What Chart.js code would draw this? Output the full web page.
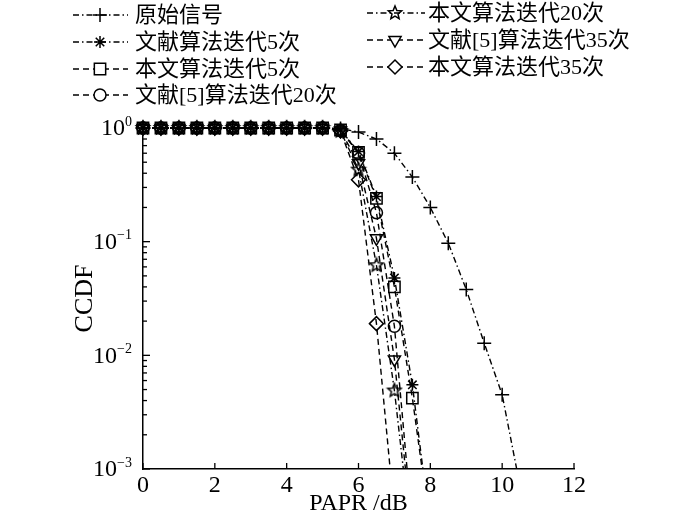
<!DOCTYPE html>
<html>
<head>
<meta charset="utf-8">
<script src="https://cdn.jsdelivr.net/npm/chart.js@4.4.1/dist/chart.umd.min.js"></script>
<style>
  html, body { margin: 0; padding: 0; background: #fff; }
</style>
</head>
<body>
<canvas id="myChart" width="700" height="519"></canvas>
<script>
// PAPR (dB) sample points
const papr = [0, 0.5, 1, 1.5, 2, 2.5, 3, 3.5, 4, 4.5, 5, 5.5, 6, 6.5, 7, 7.5, 8, 8.5, 9, 9.5, 10, 10.5];

const seriesNames = [
    "原始信号",
    "文献算法迭代5次",
    "本文算法迭代5次",
    "文献[5]算法迭代20次",
    "本文算法迭代20次",
    "文献[5]算法迭代35次",
    "本文算法迭代35次",
];

// CCDF values (points past the bottom are where the lines leave the plot)
const ccdfOriginal = [1, 1, 1, 1, 1, 1, 1, 1, 1, 1, 1, 0.99, 0.92, 0.80, 0.60, 0.37, 0.20, 0.097, 0.038, 0.0128, 0.0045, 0.0007];
const ccdfRef5 = [1, 1, 1, 1, 1, 1, 1, 1, 1, 1, 1, 0.96, 0.62, 0.25, 0.048, 0.0055, 0.0003];
const ccdfOurs5 = [1, 1, 1, 1, 1, 1, 1, 1, 1, 1, 1, 0.96, 0.61, 0.24, 0.040, 0.0042, 0.0003];
const ccdfRef20 = [1, 1, 1, 1, 1, 1, 1, 1, 1, 1, 1, 0.95, 0.60, 0.18, 0.018, 0.0003];
const ccdfOurs20 = [1, 1, 1, 1, 1, 1, 1, 1, 1, 1, 1, 0.94, 0.43, 0.062, 0.0049, 0.0002];
const ccdfRef35 = [1, 1, 1, 1, 1, 1, 1, 1, 1, 1, 1, 0.95, 0.49, 0.107, 0.0092, 0.00025];
const ccdfOurs35 = [1, 1, 1, 1, 1, 1, 1, 1, 1, 1, 1, 0.94, 0.35, 0.019, 0.0004];

const xTicks = [0, 2, 4, 6, 8, 10, 12];
const yDecades = [0, -1, -2, -3];

const serif = '"Liberation Serif", "Noto Sans CJK SC", serif';
const dashDot = [6, 3, 1.5, 3];
const dashed = [6, 4];

// five-pointed star marker
function makeStar(r) {
    var c = document.createElement("canvas");
    var s = Math.ceil(r * 2 + 4);
    c.width = s;
    c.height = s;
    var g = c.getContext("2d");
    g.strokeStyle = "#000";
    g.lineWidth = 1.5;
    g.beginPath();
    for (var i = 0; i < 10; i++) {
        var rr = i % 2 === 0 ? r : r * 0.45;
        var a = -Math.PI / 2 + i * Math.PI / 5;
        var px = s / 2 + rr * Math.cos(a);
        var py = s / 2 + rr * Math.sin(a);
        if (i === 0) g.moveTo(px, py); else g.lineTo(px, py);
    }
    g.closePath();
    g.stroke();
    return c;
}
const starImg = makeStar(7);

function toPoints(values) {
    return values.map(function (v, i) { return { x: papr[i], y: v }; });
}

function makeDataset(i, values, style, radius, dash, rotation) {
    return {
        label: seriesNames[i],
        data: toPoints(values),
        borderColor: "#000",
        backgroundColor: "#fff",
        borderWidth: 1.4,
        borderDash: dash,
        pointStyle: style,
        pointRadius: radius,
        pointRotation: rotation || 0,
        pointBorderColor: "#000",
        pointBackgroundColor: "rgba(0,0,0,0)",
        pointBorderWidth: 1.5,
        tension: 0,
        clip: { left: 12, right: 12, top: 12, bottom: 0 },
    };
}

const datasets = [
    makeDataset(0, ccdfOriginal, "cross", 7, dashDot),
    makeDataset(1, ccdfRef5, "star", 6, dashDot),
    makeDataset(2, ccdfOurs5, "rect", 8, dashed),
    makeDataset(3, ccdfRef20, "circle", 6, dashed),
    makeDataset(4, ccdfOurs20, starImg, 7, dashDot),
    makeDataset(5, ccdfRef35, "triangle", 7, dashed, 180),
    makeDataset(6, ccdfOurs35, "rectRot", 7, dashed),
];

// legend positions: two columns
const legendSlots = [
    { x0: 73, x1: 128, mx: 100, tx: 135, y: 15 },
    { x0: 73, x1: 128, mx: 100, tx: 135, y: 42 },
    { x0: 73, x1: 128, mx: 100, tx: 135, y: 69 },
    { x0: 73, x1: 128, mx: 100, tx: 135, y: 95 },
    { x0: 367, x1: 425, mx: 395, tx: 428, y: 13 },
    { x0: 367, x1: 425, mx: 395, tx: 428, y: 40 },
    { x0: 367, x1: 425, mx: 395, tx: 428, y: 67 },
];

var extrasPlugin = {
    id: "extras",
    afterDraw: function (chart) {
        var ctx = chart.ctx;
        var xs = chart.scales.x;
        var ys = chart.scales.y;
        var area = chart.chartArea;
        ctx.save();
        ctx.strokeStyle = "#000";
        ctx.lineWidth = 1.3;
        ctx.setLineDash([]);
        // inward ticks on x
        xTicks.forEach(function (v) {
            var px = xs.getPixelForValue(v);
            ctx.beginPath();
            ctx.moveTo(px, area.bottom);
            ctx.lineTo(px, area.bottom - 6);
            ctx.stroke();
        });
        // inward ticks on y (major + minor)
        for (var k = -3; k <= 0; k++) {
            var major = Math.pow(10, k);
            var py = ys.getPixelForValue(major);
            ctx.beginPath();
            ctx.moveTo(area.left, py);
            ctx.lineTo(area.left + 7, py);
            ctx.stroke();
            if (k < 0) {
                for (var m = 2; m <= 9; m++) {
                    var pm = ys.getPixelForValue(m * major);
                    ctx.beginPath();
                    ctx.moveTo(area.left, pm);
                    ctx.lineTo(area.left + 4, pm);
                    ctx.stroke();
                }
            }
        }
        // y tick labels with superscript exponents
        ctx.fillStyle = "#000";
        ctx.textBaseline = "middle";
        yDecades.forEach(function (k) {
            var py = ys.getPixelForValue(Math.pow(10, k));
            var exp = k === 0 ? "0" : "\u2212" + (-k);
            ctx.font = "14px " + serif;
            var ew = ctx.measureText(exp).width;
            ctx.font = "24px " + serif;
            var bw = ctx.measureText("10").width;
            var right = 132;
            ctx.textAlign = "left";
            ctx.fillText("10", right - ew - bw, py + 1);
            ctx.font = "14px " + serif;
            ctx.fillText(exp, right - ew, py - 6);
        });
        // legend
        chart.data.datasets.forEach(function (ds, i) {
            var s = legendSlots[i];
            ctx.strokeStyle = "#000";
            ctx.lineWidth = 1.4;
            ctx.setLineDash(ds.borderDash);
            ctx.beginPath();
            ctx.moveTo(s.x0, s.y);
            ctx.lineTo(s.x1, s.y);
            ctx.stroke();
            ctx.setLineDash([]);
            ctx.fillStyle = "#fff";
            ctx.lineWidth = 1.5;
            Chart.helpers.drawPoint(ctx, {
                pointStyle: ds.pointStyle,
                radius: ds.pointRadius,
                rotation: ds.pointRotation,
                borderWidth: 1.5,
            }, s.mx, s.y);
            ctx.fillStyle = "#000";
            ctx.font = "22px " + serif;
            ctx.textAlign = "left";
            ctx.textBaseline = "middle";
            ctx.fillText(ds.label, s.tx, s.y + 1);
        });
        ctx.restore();
    },
};

var ctx = document.getElementById("myChart").getContext("2d");
var myChart = new Chart(ctx, {
    type: "line",
    data: { datasets: datasets },
    plugins: [extrasPlugin],
    options: {
        responsive: false,
        animation: false,
        layout: { padding: { left: 65, right: 126, top: 128, bottom: 0 } },
        plugins: {
            legend: { display: false },
            tooltip: { enabled: false },
        },
        scales: {
            x: {
                type: "linear",
                min: 0,
                max: 12,
                afterFit: function (scale) { scale.height = 50; },
                afterBuildTicks: function (scale) {
                    scale.ticks = xTicks.map(function (v) { return { value: v }; });
                },
                grid: { display: false, drawTicks: false },
                border: { display: true, color: "#000", width: 1.5 },
                ticks: {
                    color: "#000",
                    padding: 2,
                    maxRotation: 0,
                    font: { family: serif, size: 24 },
                },
                title: {
                    display: true,
                    text: "PAPR /dB",
                    color: "#000",
                    padding: { top: 0, bottom: 1 },
                    font: { family: serif, size: 24 },
                },
            },
            y: {
                type: "logarithmic",
                min: 0.001,
                max: 1,
                afterFit: function (scale) { scale.width = 78; },
                grid: { display: false, drawTicks: false },
                border: { display: true, color: "#000", width: 1.5 },
                ticks: { display: false },
                title: {
                    display: true,
                    text: "CCDF",
                    color: "#000",
                    padding: { top: 5, bottom: 4 },
                    font: { family: serif, size: 26 },
                },
            },
        },
    },
});
</script>
</body>
</html>
